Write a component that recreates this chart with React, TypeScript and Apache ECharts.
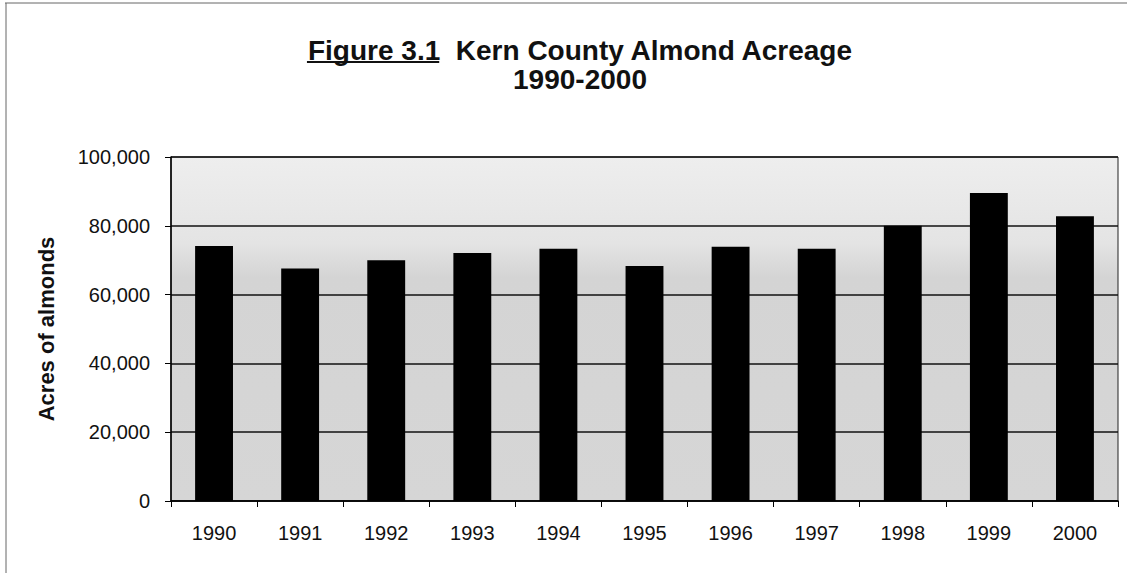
import React, { useEffect, useRef } from "react";
import * as echarts from "echarts";

const years = ["1990", "1991", "1992", "1993", "1994", "1995", "1996", "1997", "1998", "1999", "2000"];
const acres = [74100, 67600, 70000, 72100, 73300, 68300, 73900, 73300, 80000, 89500, 82800];
const yTicks = { min: 0, max: 100000, interval: 20000 };
const titleMain = "Figure 3.1";
const titleRest = "  Kern County Almond Acreage";
const titleSub = "1990-2000";
const yTitle = "Acres of almonds";

const FONT = "'Liberation Sans', Arial, sans-serif";
const TITLE_SIZE = 28;

function measure(text: string, font: string): number {
  const c = document.createElement("canvas");
  const ctx = c.getContext("2d")!;
  ctx.font = font;
  return ctx.measureText(text).width;
}

export default function App() {
  const ref = useRef<HTMLDivElement>(null);
  useEffect(() => {
    document.body.style.margin = "0";
    const chart = echarts.init(ref.current!, null, { renderer: "svg" });
    const tFont = `bold ${TITLE_SIZE}px ${FONT}`;
    const cx = 580;
    const line1 = titleMain + titleRest;
    const w1 = measure(line1, tFont);
    const wMain = measure(titleMain, tFont);
    const x0 = cx - w1 / 2;
    const y1 = 50;
    const y2 = 79;
    const underY = y1 + 12;
    chart.setOption({
      animation: false,
      backgroundColor: "#ffffff",
      graphic: [
        { type: "line", shape: { x1: 5, y1: 3, x2: 1127, y2: 3 }, style: { stroke: "#666", lineWidth: 1 } },
        { type: "line", shape: { x1: 6, y1: 3, x2: 6, y2: 573 }, style: { stroke: "#666", lineWidth: 1 } },
        {
          type: "text",
          x: cx,
          y: y1,
          style: { text: line1, font: tFont, fill: "#111", textAlign: "center", textVerticalAlign: "middle" },
        },
        {
          type: "text",
          x: cx,
          y: y2,
          style: { text: titleSub, font: tFont, fill: "#111", textAlign: "center", textVerticalAlign: "middle" },
        },
        {
          type: "line",
          shape: { x1: x0, y1: underY, x2: x0 + wMain, y2: underY },
          style: { stroke: "#111", lineWidth: 2 },
        },
      ],
      grid: {
        left: 171,
        right: 9,
        top: 157,
        bottom: 72,
        show: true,
        borderColor: "#222",
        borderWidth: 1,
        backgroundColor: {
          type: "linear",
          x: 0, y: 0, x2: 0, y2: 1,
          colorStops: [
            { offset: 0, color: "#eeeeee" },
            { offset: 0.25, color: "#e4e4e4" },
            { offset: 0.35, color: "#d4d4d4" },
            { offset: 1, color: "#d6d6d6" },
          ],
        },
      },
      xAxis: {
        type: "category",
        data: years,
        axisLine: { lineStyle: { color: "#000", width: 1.5 } },
        axisTick: { show: true, length: 6, lineStyle: { color: "#000" } },
        axisLabel: { fontFamily: FONT, fontSize: 20, color: "#111", margin: 22 },
      },
      yAxis: {
        type: "value",
        min: yTicks.min,
        max: yTicks.max,
        interval: yTicks.interval,
        name: yTitle,
        nameLocation: "middle",
        nameGap: 114,
        nameTextStyle: { fontFamily: FONT, fontWeight: "bold", fontSize: 22, color: "#111" },
        axisLine: { show: true, lineStyle: { color: "#000", width: 1.5 } },
        axisTick: { show: true, length: 6, lineStyle: { color: "#000" } },
        axisLabel: {
          fontFamily: FONT,
          fontSize: 20,
          color: "#111",
          margin: 21,
          formatter: (v: number) => v.toLocaleString("en-US"),
        },
        splitLine: { show: true, lineStyle: { color: "#111", width: 1.5 } },
      },
      series: [
        {
          type: "bar",
          data: acres,
          barWidth: "44%",
          itemStyle: { color: "#000" },
        },
      ],
    });
    return () => chart.dispose();
  }, []);
  return <div ref={ref} style={{ width: 1127, height: 573 }} />;
}
